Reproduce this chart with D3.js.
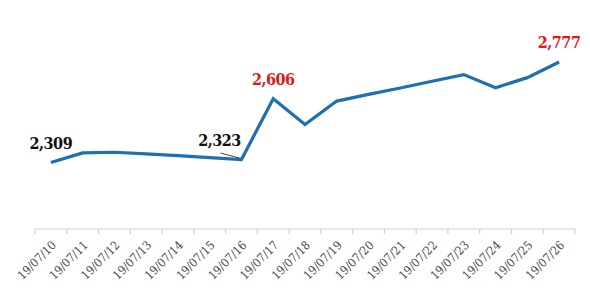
<!DOCTYPE html>
<html>
<head>
<meta charset="utf-8">
<script src="https://cdn.jsdelivr.net/npm/d3@7"></script>
<style>
  html, body { margin: 0; padding: 0; background: #fff; }
  svg { display: block; }
</style>
</head>
<body>
<svg id="chart" width="590" height="297"></svg>
<script>
const dates = ["19/07/10","19/07/11","19/07/12","19/07/13","19/07/14","19/07/15","19/07/16","19/07/17","19/07/18","19/07/19","19/07/20","19/07/21","19/07/22","19/07/23","19/07/24","19/07/25","19/07/26"];
const values = [2309, 2354, 2357, 2349, 2341, 2332, 2323, 2606, 2486, 2595, 2626, 2656, 2687, 2718, 2657, 2704, 2777];
const yDomain = [2000, 3000];
// labelled points: index, colour
const labelIdx = [0, 6, 7, 16];
const labelColors = ["#111", "#111", "#e3171b", "#e3171b"];

const svg = d3.select("#chart");
const W = 590, H = 297;
const m = { left: 35, right: 15, top: 14, bottom: 68 };

const x = d3.scaleBand().domain(dates).range([m.left, W - m.right]);
const y = d3.scaleLinear().domain(yDomain).range([H - m.bottom, m.top]);
const cx = d => x(d) + x.bandwidth() / 2;

// x axis
const axisY = y(yDomain[0]);
const axisG = svg.append("g").attr("transform", `translate(0,${axisY})`);
axisG.append("line")
  .attr("x1", m.left).attr("x2", W - m.right)
  .attr("stroke", "#d0d0d0").attr("stroke-width", 1.2);
const bounds = dates.map(d => x(d)).concat([x(dates[dates.length - 1]) + x.bandwidth()]);
axisG.selectAll("line.tk").data(bounds).enter().append("line")
  .attr("class", "tk")
  .attr("x1", d => d).attr("x2", d => d)
  .attr("y1", 0).attr("y2", 5)
  .attr("stroke", "#d0d0d0").attr("stroke-width", 1.2);
axisG.selectAll("text").data(dates).enter().append("text")
  .attr("transform", d => `translate(${cx(d) + 3},${14}) rotate(-45)`)
  .attr("text-anchor", "end")
  .attr("dy", "0.35em")
  .attr("font-family", "'DejaVu Serif Condensed', 'DejaVu Serif', serif")
  .attr("font-stretch", "condensed")
  .attr("font-size", 12)
  .attr("fill", "#444")
  .text(d => d);

// line
const line = d3.line()
  .x((d, i) => cx(dates[i]))
  .y(d => y(d));
svg.append("path")
  .datum(values)
  .attr("d", line)
  .attr("fill", "none")
  .attr("stroke", "#1f6fb2")
  .attr("stroke-width", 3.2)
  .attr("stroke-linejoin", "miter");

// leader line for 2,323
const i6 = 6;
svg.append("line")
  .attr("x1", cx(dates[i6]) - 21).attr("y1", y(values[i6]) - 6.5)
  .attr("x2", cx(dates[i6]) - 2).attr("y2", y(values[i6]) - 1.5)
  .attr("stroke", "#444").attr("stroke-width", 1);

// data labels
const fmt = d3.format(",");
labelIdx.forEach((idx, k) => {
  const dx = idx === 6 ? -22 : 0;
  svg.append("text")
    .attr("x", cx(dates[idx]) + dx)
    .attr("y", y(values[idx]) - 13.5)
    .attr("text-anchor", "middle")
    .attr("font-family", "'DejaVu Serif Condensed', 'DejaVu Serif', serif")
    .attr("font-stretch", "condensed")
    .attr("font-weight", "bold")
    .attr("font-size", 16)
    .attr("letter-spacing", -0.5)
    .attr("fill", labelColors[k])
    .text(fmt(values[idx]));
});
</script>
</body>
</html>
